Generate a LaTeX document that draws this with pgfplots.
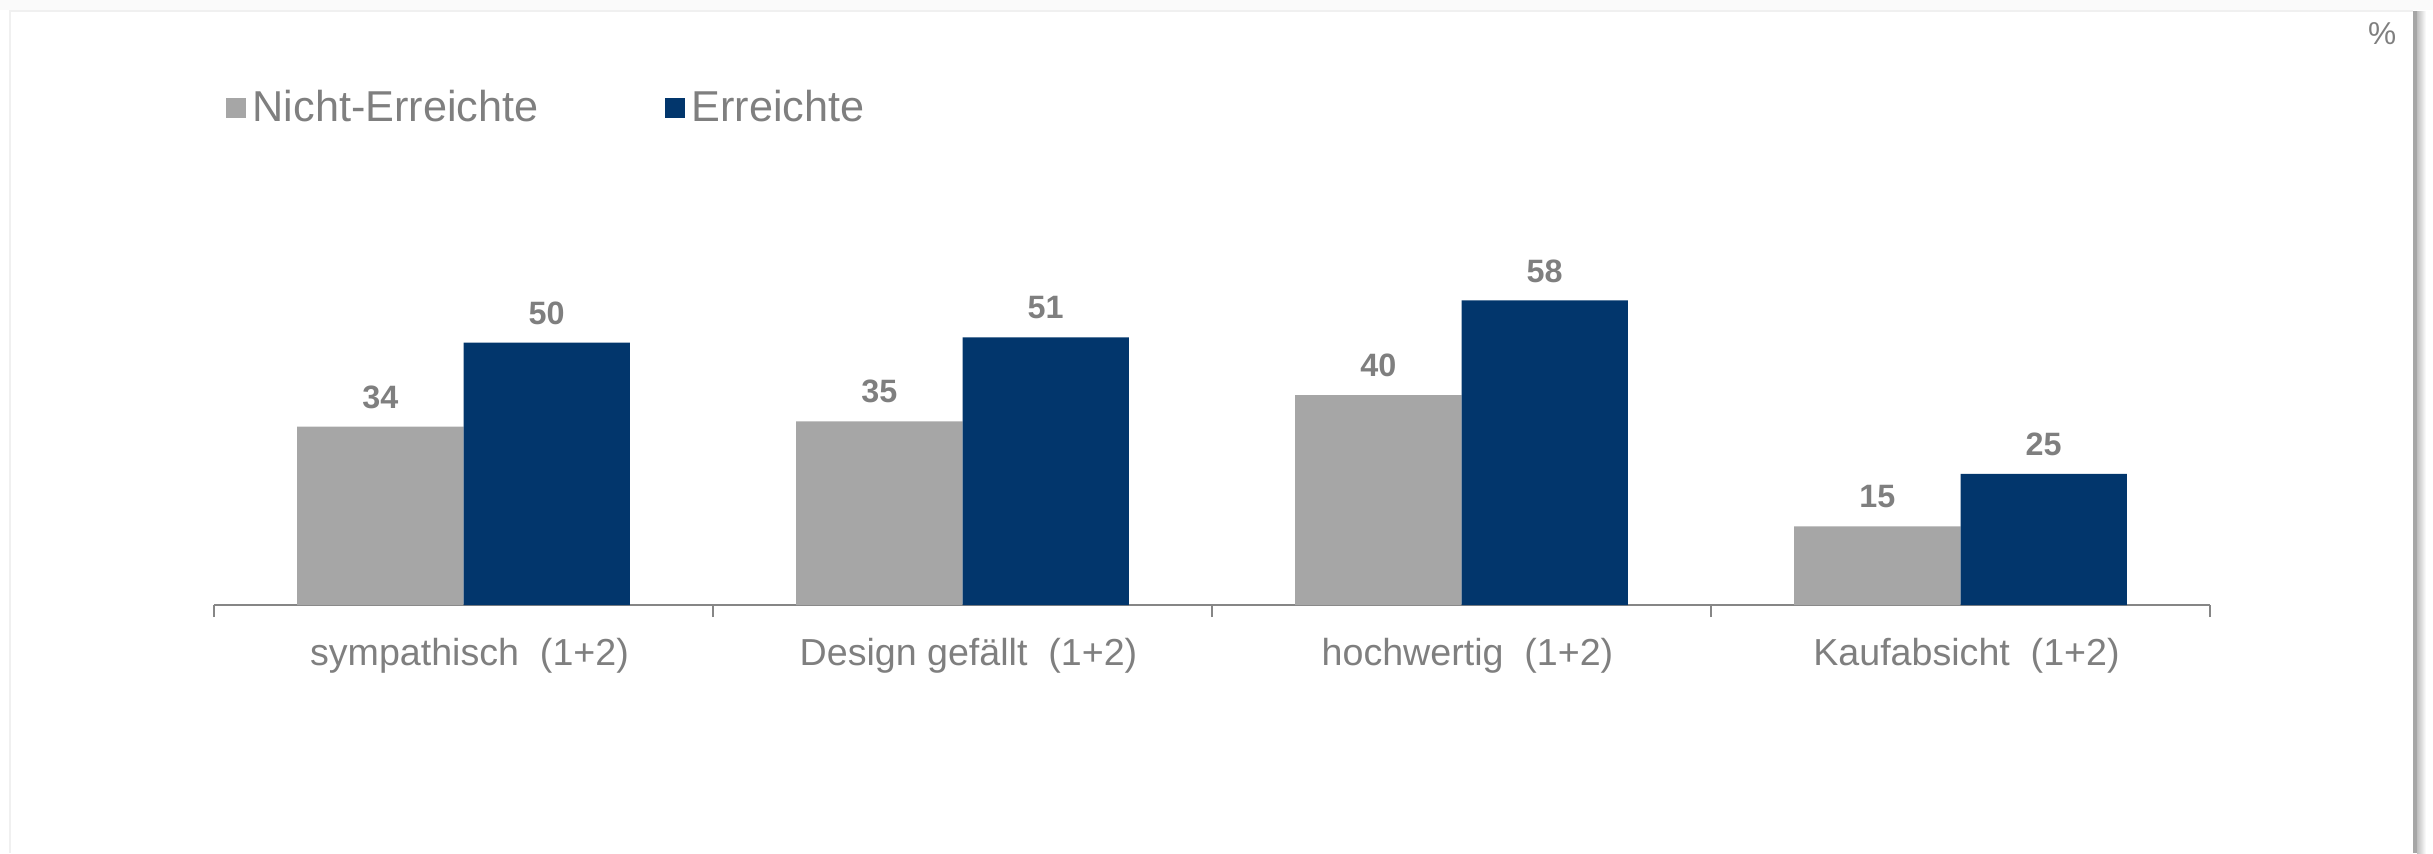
\documentclass[border=0pt]{standalone}
\usepackage{fontspec}
\setmainfont{Liberation Sans}
\usepackage{pgfplots}
\pgfplotsset{compat=1.18}
\definecolor{grbar}{HTML}{A6A6A6}
\definecolor{blbar}{HTML}{02366C}
\definecolor{txt}{HTML}{7F7F7F}
\definecolor{axl}{HTML}{868686}

\begin{document}
\begin{tikzpicture}
\path[use as bounding box] (0,0) rectangle (24.33,8.53);
% frame of the slide
\fill[black!2] (0,8.43) rectangle (24.33,8.53);
\draw[black!6, line width=0.3pt] (0.10,0) -- (0.10,8.42) -- (24.13,8.42);
\fill[black!35] (24.13,0) rectangle (24.17,8.42);
\shade[left color=black!25, right color=white] (24.17,0) rectangle (24.26,8.42);
\begin{axis}[
    at={(2.14cm,2.48cm)}, anchor=south west,
    scale only axis, width=19.96cm, height=3.15cm,
    xmin=-0.5, xmax=3.5, ymin=0, ymax=60,
    axis x line*=bottom, axis y line=none,
    x axis line style={axl, line width=0.7pt},
    xtick={0,1,2,3},
    xticklabels={sympathisch\ \ (1+2), Design gefällt\ \ (1+2), hochwertig\ \ (1+2), Kaufabsicht\ \ (1+2)},
    major tick length=0pt,
    minor xtick={-0.5,0.5,1.5,2.5,3.5},
    minor tick length=0.12cm, tick align=outside,
    minor tick style={axl, line width=0.5pt},
    xticklabel style={font=\fontsize{10.7}{13}\selectfont, text=txt, yshift=-2.1mm, xshift=0.6mm},
    ytick=\empty,
    ybar=0pt, bar width=1.663cm,
    clip=false,
    /pgf/number format/assume math mode=true,
    nodes near coords,
    every node near coord/.append style={font=\fontsize{9.2}{11}\selectfont\bfseries, text=txt, yshift=0.57mm},
    legend columns=2,
    legend style={at={(0.0055,1.577)}, anchor=west, draw=none, fill=none,
        font=\fontsize{12.3}{14}\selectfont, text=txt, inner sep=0pt,
        /tikz/every even column/.append style={column sep=1.19cm}},
    legend cell align=left,
]
\addplot[fill=grbar, draw=none,
    legend image code/.code={\fill[grbar] (0cm,-0.1cm) rectangle (0.2cm,0.1cm);}]
    coordinates {(0,34) (1,35) (2,40) (3,15)};
\addplot[fill=blbar, draw=none,
    legend image code/.code={\fill[blbar] (0cm,-0.1cm) rectangle (0.2cm,0.1cm);}]
    coordinates {(0,50) (1,51) (2,58) (3,25)};
\legend{Nicht-Erreichte, Erreichte}
\end{axis}
\node[text=txt, font=\fontsize{9}{12}\selectfont, anchor=north east, inner sep=0pt] at (23.97,8.31) {\%};
\end{tikzpicture}
\end{document}
